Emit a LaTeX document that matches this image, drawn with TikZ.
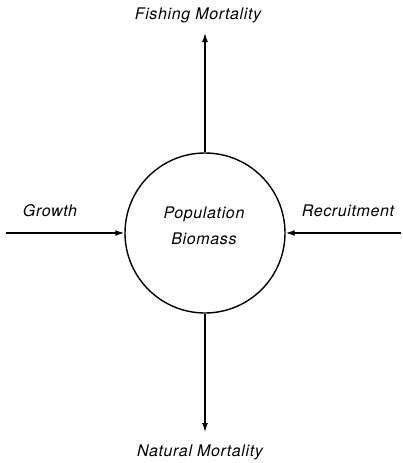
\documentclass[tikz,border=0pt]{standalone}
\usepackage{fontspec}
\setmainfont{TeX Gyre Heros}[LetterSpace=4]
\usetikzlibrary{arrows.meta}

\begin{document}
\begin{tikzpicture}[x=1pt,y=-1pt,
    lbl/.style={font=\itshape\fontsize{16}{26}\selectfont},
    flow/.style={line width=1.3pt,-{Latex[length=9pt,width=6pt]}}]
    \useasboundingbox (0,0) rectangle (403,463);
    \node[circle,draw,line width=1.4pt,minimum size=160pt,inner sep=0pt] (pop) at (205,233) {};
    \node[lbl,align=center] (biomass) at (204,226) {Population\\Biomass};
    \node[lbl] (fishing) at (198,15) {Fishing Mortality};
    \node[lbl] (natural) at (200,452) {Natural Mortality};
    \node[lbl] (growth) at (50,211) {Growth};
    \node[lbl] (recruit) at (348,211) {Recruitment};
    \coordinate (fishtip) at (205,33);
    \coordinate (nattip) at (205,432);
    \coordinate (growstart) at (6,233);
    \coordinate (recstart) at (401,233);
    \draw[flow] (pop.north) -- (fishtip);
    \draw[flow] (pop.south) -- (nattip);
    \draw[flow] (growstart) -- (pop.west);
    \draw[flow] (recstart) -- (pop.east);
  \end{tikzpicture}
\end{document}
